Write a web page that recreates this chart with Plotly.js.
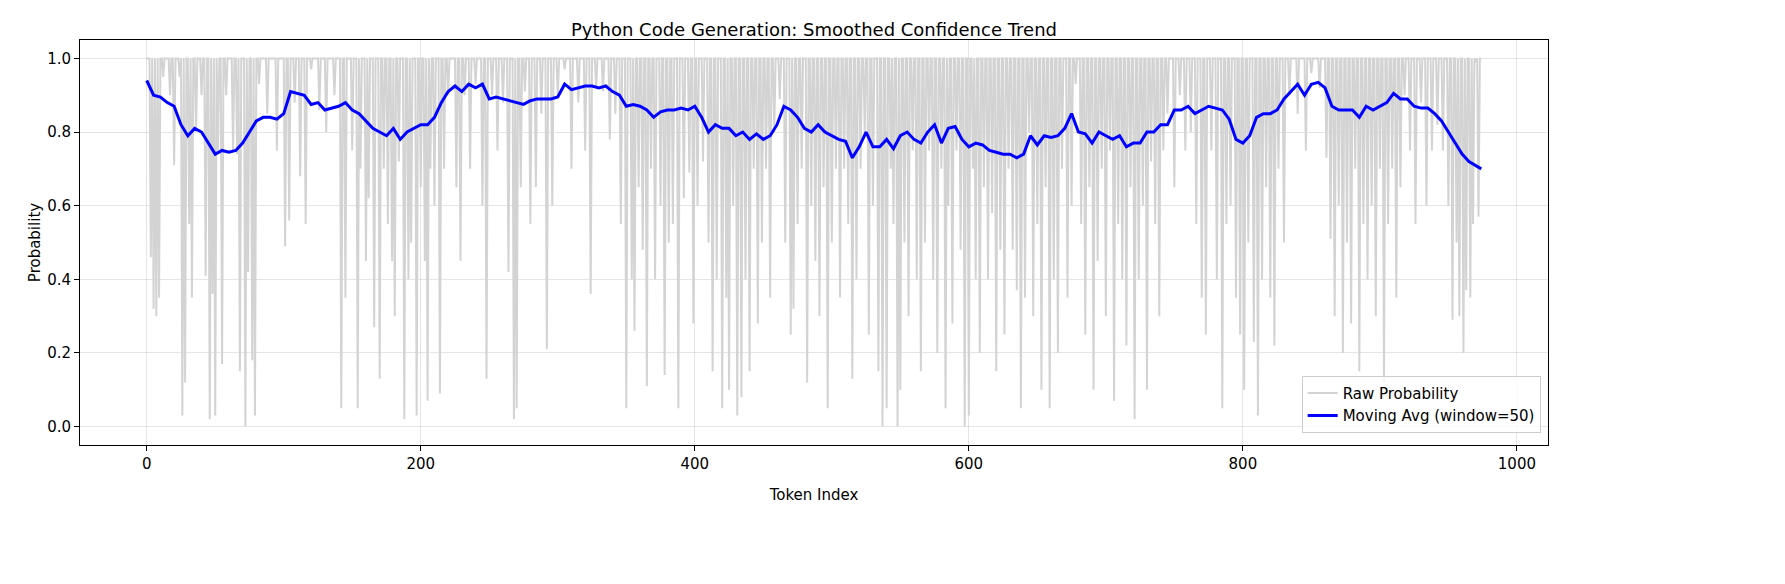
<!DOCTYPE html>
<html>
<head>
<meta charset="utf-8">
<script src="https://cdn.plot.ly/plotly-3.0.1.min.js"></script>
<style>body{margin:0;background:#fff}</style>
</head>
<body>
<div id="plot" style="width:1785px;height:584px"></div>
<script>
const N_TOKENS = 975;
// token index and probability of the visible dips in the raw trace (baseline 1.0)
const DIP_IDX = [3,5,7,9,12,17,20,24,26,28,31,33,36,40,43,46,48,50,52,55,58,63,66,68,72,74,77,79,82,88,95,101,104,108,112,116,120,126,131,137,142,145,150,154,156,160,162,166,170,173,176,179,181,184,188,191,193,197,200,203,205,207,210,214,217,220,226,229,232,236,240,245,248,252,256,260,264,268,270,273,276,280,284,288,292,296,300,305,310,315,320,324,328,333,338,342,346,350,354,356,359,362,365,368,371,375,378,381,384,388,392,396,399,402,406,410,413,416,420,423,425,428,431,434,437,440,443,446,449,452,455,458,462,466,470,472,475,478,482,485,488,491,494,497,500,503,506,509,512,515,518,521,524,527,530,534,537,540,543,545,548,550,553,556,559,562,565,568,571,574,577,580,583,585,588,591,594,597,600,603,605,608,611,614,617,620,623,626,629,632,635,638,641,644,647,650,653,656,659,662,665,668,672,675,678,682,685,688,691,694,697,700,703,706,709,712,715,718,721,724,727,730,733,736,739,742,745,750,754,758,762,766,770,773,777,781,785,788,791,795,798,801,804,808,811,814,817,820,823,826,830,834,840,846,850,856,861,864,867,870,873,876,879,882,885,888,891,894,897,900,903,906,909,912,915,918,922,926,930,934,938,942,946,950,953,956,958,961,963,966,968,970,972];
const DIP_VAL = [0.46,0.32,0.30,0.35,0.95,0.90,0.71,0.95,0.03,0.12,0.55,0.35,0.80,0.90,0.41,0.02,0.36,0.03,0.75,0.17,0.90,0.75,0.74,0.15,0.00,0.42,0.18,0.03,0.93,0.85,0.75,0.49,0.56,0.88,0.68,0.55,0.97,0.86,0.80,0.90,0.05,0.35,0.75,0.05,0.70,0.45,0.62,0.27,0.13,0.70,0.55,0.45,0.30,0.72,0.02,0.40,0.50,0.03,0.65,0.45,0.07,0.70,0.60,0.09,0.70,0.90,0.65,0.45,0.90,0.70,0.93,0.60,0.13,0.90,0.75,0.88,0.42,0.02,0.05,0.65,0.91,0.55,0.65,0.85,0.21,0.60,0.90,0.97,0.70,0.88,0.75,0.36,0.92,0.91,0.78,0.85,0.55,0.05,0.40,0.26,0.65,0.48,0.11,0.70,0.40,0.60,0.14,0.50,0.55,0.05,0.62,0.69,0.28,0.60,0.72,0.50,0.15,0.40,0.05,0.35,0.10,0.60,0.03,0.08,0.40,0.15,0.70,0.28,0.50,0.70,0.35,0.80,0.89,0.50,0.25,0.32,0.55,0.70,0.12,0.60,0.45,0.30,0.65,0.05,0.50,0.70,0.35,0.70,0.55,0.13,0.40,0.70,0.80,0.25,0.60,0.15,0.00,0.05,0.70,0.55,0.00,0.10,0.50,0.30,0.75,0.40,0.15,0.50,0.75,0.40,0.20,0.70,0.05,0.60,0.28,0.75,0.48,0.00,0.03,0.70,0.40,0.20,0.65,0.40,0.58,0.15,0.48,0.25,0.70,0.48,0.37,0.05,0.35,0.80,0.30,0.55,0.10,0.65,0.05,0.40,0.20,0.70,0.35,0.60,0.93,0.55,0.25,0.65,0.10,0.45,0.70,0.30,0.75,0.07,0.55,0.40,0.22,0.65,0.02,0.40,0.60,0.10,0.72,0.55,0.30,0.75,0.85,0.65,0.90,0.75,0.80,0.55,0.35,0.25,0.75,0.40,0.05,0.55,0.60,0.35,0.25,0.10,0.50,0.23,0.03,0.40,0.65,0.35,0.22,0.70,0.50,0.90,0.85,0.75,0.96,0.92,0.73,0.51,0.30,0.60,0.20,0.50,0.28,0.70,0.15,0.55,0.40,0.60,0.30,0.70,0.12,0.55,0.70,0.35,0.65,0.90,0.75,0.55,0.88,0.60,0.75,0.82,0.75,0.60,0.29,0.50,0.30,0.20,0.37,0.35,0.55,0.99,0.57];

const AVG_IDX = [0,5,10,15,20,25,30,35,40,45,50,55,60,65,70,75,80,85,90,95,100,105,110,115,120,125,130,135,140,145,150,155,160,165,170,175,180,185,190,195,200,205,210,215,220,225,230,235,240,245,250,255,260,265,270,275,280,285,290,295,300,305,310,315,320,325,330,335,340,345,350,355,360,365,370,375,380,385,390,395,400,405,410,415,420,425,430,435,440,445,450,455,460,465,470,475,480,485,490,495,500,505,510,515,520,525,530,535,540,545,550,555,560,565,570,575,580,585,590,595,600,605,610,615,620,625,630,635,640,645,650,655,660,665,670,675,680,685,690,695,700,705,710,715,720,725,730,735,740,745,750,755,760,765,770,775,780,785,790,795,800,805,810,815,820,825,830,835,840,845,850,855,860,865,870,875,880,885,890,895,900,905,910,915,920,925,930,935,940,945,950,955,960,965,970,974];
const AVG_VAL = [0.94,0.90,0.895,0.88,0.87,0.82,0.79,0.81,0.80,0.77,0.74,0.75,0.745,0.75,0.77,0.80,0.83,0.84,0.84,0.835,0.85,0.91,0.905,0.90,0.875,0.88,0.86,0.865,0.87,0.88,0.86,0.85,0.83,0.81,0.80,0.79,0.81,0.78,0.80,0.81,0.82,0.82,0.84,0.88,0.91,0.925,0.91,0.93,0.92,0.93,0.89,0.895,0.89,0.885,0.88,0.875,0.885,0.89,0.89,0.89,0.895,0.93,0.915,0.92,0.925,0.925,0.92,0.925,0.91,0.90,0.87,0.875,0.87,0.86,0.84,0.855,0.86,0.86,0.865,0.86,0.87,0.84,0.80,0.82,0.81,0.81,0.79,0.80,0.78,0.795,0.78,0.79,0.82,0.87,0.86,0.84,0.81,0.80,0.82,0.80,0.79,0.78,0.775,0.73,0.76,0.80,0.76,0.76,0.78,0.755,0.79,0.80,0.78,0.77,0.80,0.82,0.77,0.81,0.815,0.78,0.76,0.77,0.765,0.75,0.745,0.74,0.74,0.73,0.74,0.79,0.765,0.79,0.785,0.79,0.81,0.85,0.80,0.795,0.77,0.80,0.79,0.78,0.79,0.76,0.77,0.77,0.80,0.80,0.82,0.82,0.86,0.86,0.87,0.85,0.86,0.87,0.865,0.86,0.835,0.78,0.77,0.79,0.84,0.85,0.85,0.86,0.89,0.91,0.93,0.90,0.93,0.935,0.92,0.87,0.86,0.86,0.86,0.84,0.87,0.86,0.87,0.88,0.905,0.89,0.89,0.87,0.865,0.865,0.85,0.83,0.80,0.77,0.74,0.72,0.71,0.70];

const dipMap = new Map(DIP_IDX.map((k, i) => [k, DIP_VAL[i]]));
const rawX = [], rawY = [];
for (let i = 0; i < N_TOKENS; i++) {
  rawX.push(i);
  rawY.push(dipMap.has(i) ? dipMap.get(i) : 1.0);
}

const font = {family: 'DejaVu Sans', size: 15, color: '#000'};
const axis = {
  showline: true, linecolor: '#000', linewidth: 1, mirror: true,
  ticks: 'outside', ticklen: 5, tickcolor: '#000',
  showgrid: true, gridcolor: 'rgba(0,0,0,0.1)', zeroline: false,
  tickfont: font
};

Plotly.newPlot('plot', [
  {x: rawX, y: rawY, type: 'scatter', mode: 'lines', name: 'Raw Probability',
   line: {color: '#d3d3d3', width: 2}},
  {x: AVG_IDX, y: AVG_VAL, type: 'scatter', mode: 'lines', name: 'Moving Avg (window=50)',
   line: {color: '#0000ff', width: 3}}
], {
  width: 1785, height: 584,
  margin: {l: 80, r: 237, t: 40, b: 139},
  paper_bgcolor: '#fff', plot_bgcolor: '#fff',
  font: font,
  title: {text: 'Python Code Generation: Smoothed Confidence Trend', font: {family: 'DejaVu Sans', size: 18}, x: 0.5, xref: 'paper', y: 0.96},
  xaxis: Object.assign({}, axis, {range: [-48.7, 1022.7], tickvals: [0, 200, 400, 600, 800, 1000],
    title: {text: 'Token Index', font: font}}),
  yaxis: Object.assign({}, axis, {range: [-0.05, 1.05], tickvals: [0, 0.2, 0.4, 0.6, 0.8, 1.0],
    ticktext: ['0.0', '0.2', '0.4', '0.6', '0.8', '1.0'], title: {text: 'Probability', font: font}}),
  legend: {x: 0.995, y: 0.03, xanchor: 'right', yanchor: 'bottom', bgcolor: 'rgba(255,255,255,0.8)',
    bordercolor: '#ccc', borderwidth: 1, font: font},
  showlegend: true
}, {displayModeBar: false});
</script>
</body>
</html>
